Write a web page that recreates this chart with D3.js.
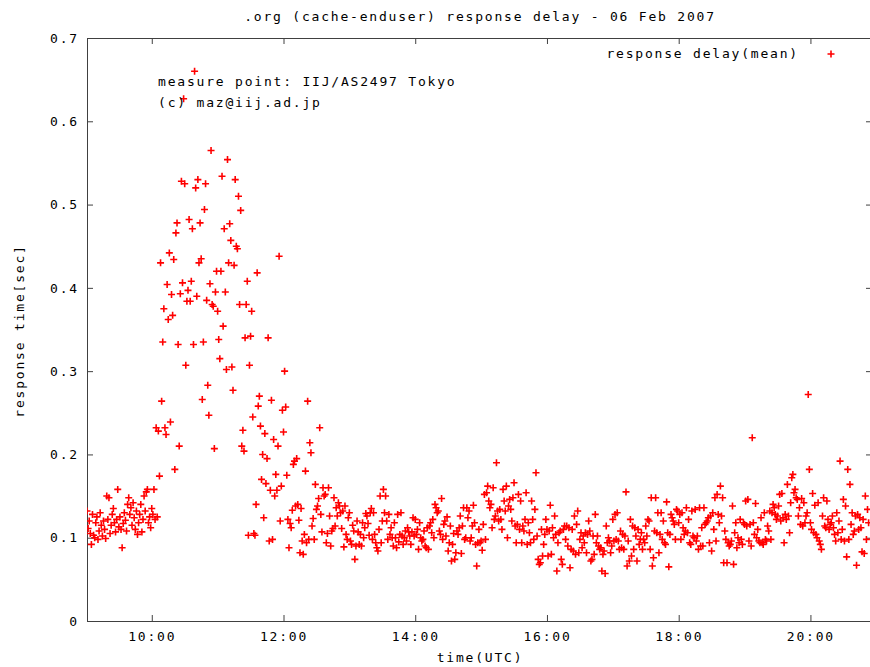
<!DOCTYPE html>
<html>
<head>
<meta charset="utf-8">
<title>response delay</title>
<script src="https://cdn.jsdelivr.net/npm/d3@7"></script>
<style>
  body { margin: 0; background: #fff; }
  text { font-family: "DejaVu Sans Mono", monospace; font-size: 13px; letter-spacing: 1.8px; fill: #000; }
</style>
</head>
<body>
<div id="chart"></div>
<script>
// response delay (mean), one sample per minute, 06 Feb 2007 (UTC)
var delay09 = [ // 09:01 - 09:59
    0.132,0.111,0.120,0.105,0.092,0.128,0.103,0.100,0.118,0.125,
    0.098,0.108,0.130,0.115,0.102,0.120,0.110,0.099,0.150,0.122,
    0.148,0.105,0.115,0.128,0.135,0.118,0.107,0.122,0.158,0.113,
    0.125,0.110,0.088,0.117,0.130,0.121,0.108,0.140,0.148,0.128,
    0.136,0.115,0.142,0.124,0.110,0.132,0.104,0.118,0.128,0.140,
    0.107,0.122,0.150,0.132,0.155,0.158,0.118,0.125,0.112];
var delay10 = [
    0.135,0.128,0.158,0.122,0.232,0.125,0.228,0.174,0.430,0.264,
    0.335,0.375,0.232,0.224,0.404,0.362,0.442,0.239,0.392,0.367,
    0.434,0.182,0.466,0.478,0.332,0.210,0.393,0.528,0.406,0.627,
    0.525,0.307,0.384,0.397,0.482,0.384,0.408,0.471,0.332,0.660,
    0.520,0.390,0.530,0.430,0.478,0.435,0.266,0.335,0.494,0.525,
    0.385,0.283,0.247,0.405,0.565,0.380,0.378,0.207,0.395,0.420];
var delay11 = [
    0.372,0.338,0.315,0.420,0.534,0.354,0.471,0.395,0.302,0.554,
    0.430,0.477,0.457,0.305,0.277,0.427,0.530,0.450,0.447,0.510,
    0.380,0.493,0.210,0.229,0.204,0.340,0.380,0.408,0.103,0.307,
    0.342,0.372,0.245,0.105,0.103,0.140,0.418,0.258,0.270,0.234,
    0.170,0.200,0.124,0.225,0.165,0.195,0.340,0.096,0.157,0.265,
    0.098,0.218,0.150,0.176,0.157,0.210,0.438,0.120,0.162,0.253];
var delay12 = [
    0.227,0.300,0.257,0.175,0.122,0.088,0.117,0.112,0.133,0.188,
    0.192,0.138,0.195,0.140,0.121,0.082,0.135,0.096,0.080,0.104,
    0.180,0.094,0.264,0.098,0.214,0.202,0.114,0.123,0.098,0.164,
    0.134,0.138,0.147,0.232,0.128,0.107,0.160,0.150,0.152,0.094,
    0.105,0.160,0.126,0.090,0.108,0.111,0.148,0.114,0.136,0.126,
    0.142,0.138,0.130,0.111,0.132,0.089,0.138,0.104,0.098,0.124];
var delay13 = [
    0.130,0.096,0.092,0.115,0.108,0.074,0.090,0.120,0.107,0.092,
    0.104,0.090,0.118,0.100,0.112,0.129,0.126,0.117,0.103,0.130,
    0.135,0.098,0.130,0.104,0.094,0.088,0.084,0.110,0.150,0.094,
    0.120,0.158,0.130,0.150,0.120,0.098,0.128,0.104,0.112,0.100,
    0.090,0.118,0.100,0.088,0.128,0.095,0.104,0.130,0.102,0.092,
    0.100,0.108,0.096,0.112,0.107,0.102,0.092,0.107,0.124,0.102];
var delay14 = [
    0.122,0.104,0.110,0.086,0.118,0.100,0.096,0.098,0.108,0.090,
    0.088,0.112,0.086,0.114,0.118,0.106,0.122,0.100,0.140,0.136,
    0.130,0.132,0.108,0.104,0.147,0.098,0.116,0.120,0.102,0.125,
    0.084,0.094,0.114,0.072,0.092,0.105,0.074,0.082,0.108,0.104,
    0.112,0.126,0.081,0.114,0.136,0.098,0.100,0.136,0.124,0.132,
    0.096,0.100,0.114,0.139,0.118,0.092,0.066,0.094,0.110,0.094];
var delay15 = [
    0.096,0.085,0.116,0.152,0.098,0.154,0.162,0.144,0.136,0.140,
    0.112,0.160,0.122,0.126,0.190,0.132,0.120,0.134,0.122,0.110,
    0.158,0.144,0.132,0.162,0.100,0.138,0.146,0.134,0.120,0.148,
    0.166,0.114,0.094,0.116,0.152,0.110,0.144,0.094,0.114,0.108,
    0.122,0.154,0.092,0.118,0.106,0.094,0.144,0.122,0.098,0.134,
    0.178,0.102,0.074,0.068,0.070,0.110,0.078,0.092,0.104,0.122];
var delay16 = [
    0.110,0.078,0.108,0.139,0.080,0.112,0.100,0.126,0.104,0.060,
    0.094,0.106,0.108,0.074,0.068,0.110,0.114,0.098,0.114,0.090,
    0.112,0.064,0.086,0.110,0.084,0.126,0.080,0.116,0.132,0.082,
    0.098,0.106,0.088,0.102,0.094,0.106,0.082,0.104,0.120,0.108,
    0.072,0.074,0.102,0.080,0.128,0.094,0.102,0.090,0.086,0.088,
    0.060,0.080,0.084,0.057,0.114,0.094,0.100,0.096,0.082,0.090];
var delay17 = [
    0.122,0.096,0.128,0.098,0.130,0.096,0.086,0.108,0.088,0.104,
    0.086,0.102,0.155,0.066,0.096,0.072,0.122,0.078,0.114,0.086,
    0.112,0.102,0.072,0.110,0.092,0.098,0.106,0.086,0.098,0.094,
    0.114,0.102,0.122,0.120,0.086,0.148,0.066,0.076,0.108,0.148,
    0.106,0.130,0.082,0.104,0.130,0.098,0.120,0.094,0.092,0.143,
    0.106,0.065,0.104,0.128,0.124,0.120,0.116,0.098,0.134,0.132];
var delay18 = [
    0.118,0.128,0.098,0.130,0.112,0.104,0.108,0.136,0.106,0.122,
    0.094,0.092,0.132,0.102,0.100,0.134,0.096,0.102,0.086,0.136,
    0.090,0.112,0.090,0.136,0.116,0.118,0.120,0.124,0.094,0.126,
    0.084,0.130,0.110,0.148,0.096,0.152,0.128,0.118,0.162,0.126,
    0.148,0.070,0.108,0.098,0.070,0.094,0.090,0.092,0.096,0.138,
    0.068,0.106,0.118,0.088,0.100,0.094,0.122,0.098,0.092,0.118];
var delay19 = [
    0.116,0.144,0.114,0.146,0.096,0.116,0.090,0.220,0.118,0.104,
    0.141,0.100,0.110,0.096,0.094,0.124,0.094,0.092,0.130,0.098,
    0.096,0.114,0.108,0.132,0.098,0.130,0.140,0.136,0.128,0.122,
    0.126,0.138,0.152,0.120,0.153,0.124,0.094,0.128,0.122,0.164,
    0.126,0.106,0.142,0.172,0.176,0.154,0.158,0.148,0.146,0.126,
    0.136,0.116,0.147,0.114,0.142,0.118,0.126,0.130,0.272,0.182];
var delay20 = [ // 20:00 - 20:53
    0.118,0.110,0.153,0.106,0.139,0.104,0.100,0.142,0.096,0.092,
    0.086,0.126,0.148,0.114,0.112,0.144,0.122,0.110,0.116,0.118,
    0.126,0.112,0.104,0.096,0.130,0.106,0.120,0.192,0.098,0.110,
    0.146,0.096,0.138,0.077,0.182,0.098,0.164,0.116,0.130,0.104,
    0.108,0.126,0.067,0.128,0.110,0.124,0.112,0.083,0.122,0.081,
    0.150,0.098,0.134,0.118];

var hourArrays = [delay09, delay10, delay11, delay12, delay13, delay14,
                  delay15, delay16, delay17, delay18, delay19, delay20];
var firstHour = 9;
var firstMinute = 1;   // the 09 array starts at 09:01

var yTicks = [0, 0.1, 0.2, 0.3, 0.4, 0.5, 0.6, 0.7];
var xTickHours = [10, 12, 14, 16, 18, 20];

var titleText = '.org (cache-enduser) response delay - 06 Feb 2007';
var legendText = 'response delay(mean)';
var noteLines = ['measure point: IIJ/AS2497 Tokyo', '(c) maz@iij.ad.jp'];

function day(h, m) { return new Date(Date.UTC(2007, 1, 6, h, m)); }

// flatten into {t, v}
var points = [];
hourArrays.forEach(function (arr, i) {
    var h = firstHour + i;
    var m0 = i === 0 ? firstMinute : 0;
    arr.forEach(function (v, j) { points.push({ t: day(h, m0 + j), v: v }); });
});

var width = 870, height = 667;
// plot box (right edge falls just outside the picture, like the original)
var plotLeft = 87, plotTop = 38, plotRight = 872, plotBottom = 621;

var svg = d3.select('#chart').append('svg')
    .attr('width', width).attr('height', height)
    .style('display', 'block');

svg.append('rect').attr('width', width).attr('height', height).attr('fill', '#fff');

var x = d3.scaleUtc().domain([day(9, 1), day(20, 57)]).range([plotLeft, plotRight + 1]);
var y = d3.scaleLinear().domain([0, 0.7]).range([plotBottom, plotTop]);

var xTicks = xTickHours.map(function (h) { return day(h, 0); });
var axisColor = '#404040';

// axes, gnuplot style: ticks point inwards, mirrored on top / right
var gx = svg.append('g').attr('transform', 'translate(0,' + plotBottom + ')')
    .call(d3.axisBottom(x).tickValues(xTicks).tickFormat(d3.utcFormat('%H:%M'))
        .tickSizeInner(-6).tickSizeOuter(0).tickPadding(11));
var gxt = svg.append('g').attr('transform', 'translate(0,' + plotTop + ')')
    .call(d3.axisTop(x).tickValues(xTicks).tickFormat('').tickSizeInner(-6).tickSizeOuter(0));
var gy = svg.append('g').attr('transform', 'translate(' + plotLeft + ',0)')
    .call(d3.axisLeft(y).tickValues(yTicks)
        .tickFormat(function (d) { return d === 0 ? '0' : d3.format('.1f')(d); })
        .tickSizeInner(-6).tickSizeOuter(0).tickPadding(8));
var gyr = svg.append('g').attr('transform', 'translate(' + plotRight + ',0)')
    .call(d3.axisRight(y).tickValues(yTicks).tickFormat('').tickSizeInner(-6).tickSizeOuter(0));

[gx, gxt, gy, gyr].forEach(function (g) {
    g.select('.domain').remove();
    g.selectAll('line').attr('stroke', axisColor);
    g.selectAll('text').attr('font-family', null).attr('font-size', null).attr('fill', '#000');
});

// frame
svg.append('rect')
    .attr('x', plotLeft + 0.5).attr('y', plotTop + 0.5)
    .attr('width', plotRight - plotLeft).attr('height', plotBottom - plotTop)
    .attr('fill', 'none').attr('stroke', axisColor).attr('stroke-width', 1);

// clip for the data
svg.append('clipPath').attr('id', 'plotclip')
    .append('rect').attr('x', plotLeft).attr('y', plotTop)
    .attr('width', plotRight - plotLeft).attr('height', plotBottom - plotTop);

// '+' marker, slightly soft like the scaled-down original
function crossPath(cx, cy) {
    var r = 3.5;
    return 'M' + (cx - r) + ',' + cy + 'H' + (cx + r) + 'M' + cx + ',' + (cy - r) + 'V' + (cy + r);
}

svg.append('g').attr('clip-path', 'url(#plotclip)')
    .selectAll('path')
    .data(points)
    .enter()
    .append('path')
    .attr('d', function (d) { return crossPath(x(d.t), y(d.v)); })
    .attr('stroke', '#ff0000')
    .attr('stroke-width', 1.6)
    .attr('fill', 'none');

// title and axis labels
svg.append('text').attr('x', 480).attr('y', 21).attr('text-anchor', 'middle').text(titleText);
svg.append('text').attr('x', 480).attr('y', 662).attr('text-anchor', 'middle').text('time(UTC)');
svg.append('text')
    .attr('transform', 'translate(24,331) rotate(-90)')
    .attr('text-anchor', 'middle')
    .text('response time[sec]');

// notes
svg.selectAll('.note').data(noteLines).enter().append('text')
    .attr('class', 'note')
    .attr('x', 158)
    .attr('y', function (d, i) { return 86 + i * 21; })
    .text(function (d) { return d; });

// key
svg.append('text').attr('x', 799).attr('y', 58).attr('text-anchor', 'end').text(legendText);
svg.append('path').attr('d', crossPath(831, 54))
    .attr('stroke', '#ff0000').attr('stroke-width', 1.6).attr('fill', 'none');
</script>
</body>
</html>
